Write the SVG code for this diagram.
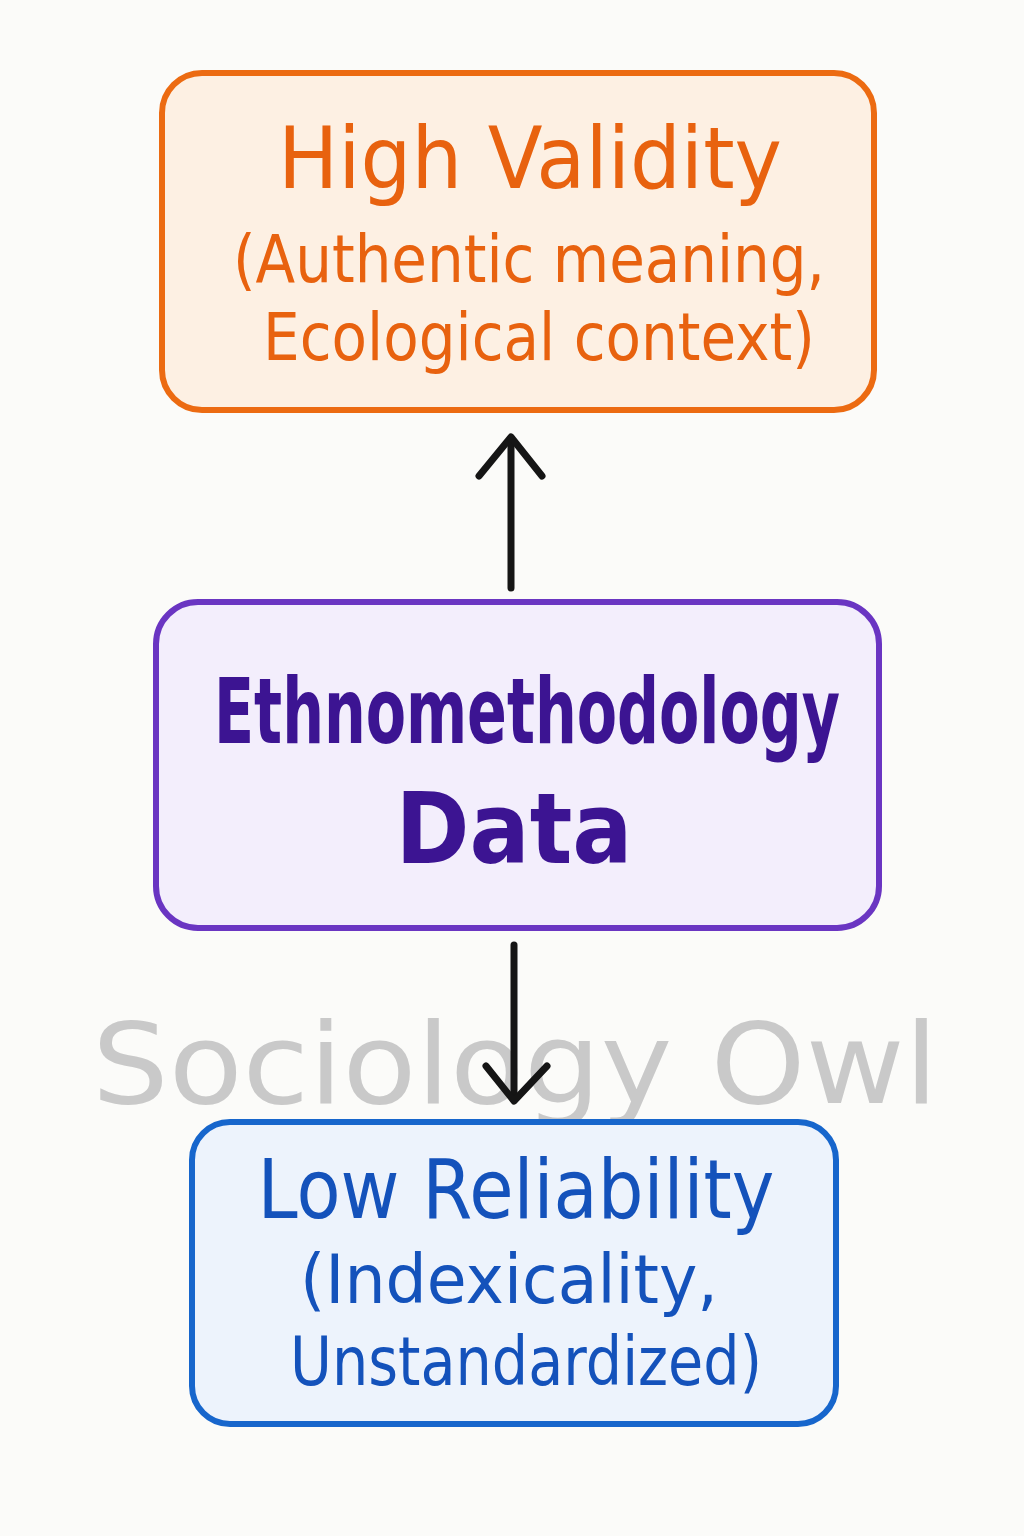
<svg xmlns="http://www.w3.org/2000/svg" width="1024" height="1536" viewBox="0 0 1024 1536">
<defs>
<style>
.t{font-family:"DejaVu Sans","Liberation Sans",sans-serif;text-anchor:middle}
.box{stroke-width:6}
.conn{stroke:#151515;stroke-width:7;fill:none;stroke-linecap:round;stroke-linejoin:round}
</style>
</defs>
<rect width="1024" height="1536" fill="#fbfbf9"/>
<g id="watermark">
<text x="515" y="1103" font-family="'DejaVu Sans',sans-serif" font-size="112" fill="#c9c9c9" text-anchor="middle" textLength="846" lengthAdjust="spacingAndGlyphs">Sociology Owl</text>
</g>
<g id="connectors">
<path class="conn" d="M511 588 L511 438"/>
<path class="conn" d="M479 476 L511 437 L542 476"/>
<path class="conn" d="M514 945 L514 1100"/>
<path class="conn" d="M486 1066 L514 1101 L547 1066"/>
</g>
<g id="high-validity">
<rect class="box" x="162" y="73" width="712" height="337" rx="40" fill="#fdf0e3" stroke="#ec6b12"/>
<text class="t" x="530" y="188" font-size="86" fill="#e8620f" textLength="504" lengthAdjust="spacingAndGlyphs">High Validity</text>
<text class="t" x="529" y="282" font-size="66" fill="#e8620f" textLength="592" lengthAdjust="spacingAndGlyphs">(Authentic meaning,</text>
<text class="t" x="539" y="360" font-size="66" fill="#e8620f" textLength="552" lengthAdjust="spacingAndGlyphs">Ecological context)</text>
</g>
<g id="ethnomethodology-data">
<rect class="box" x="156" y="602" width="723" height="326" rx="42" fill="#f3eefc" stroke="#6a35c2"/>
<text class="t" x="527" y="743" font-size="90" fill="#3c1492" font-weight="bold" textLength="626" lengthAdjust="spacingAndGlyphs">Ethnomethodology</text>
<text class="t" x="514" y="863" font-size="98" fill="#3c1492" font-weight="bold" textLength="237" lengthAdjust="spacingAndGlyphs">Data</text>
</g>
<g id="low-reliability">
<rect class="box" x="192" y="1122" width="644" height="302" rx="38" fill="#edf3fc" stroke="#1766cc"/>
<text class="t" x="516" y="1218" font-size="82" fill="#1452bb" textLength="517" lengthAdjust="spacingAndGlyphs">Low Reliability</text>
<text class="t" x="509" y="1303" font-size="68" fill="#1452bb" textLength="418" lengthAdjust="spacingAndGlyphs">(Indexicality,</text>
<text class="t" x="526" y="1385" font-size="68" fill="#1452bb" textLength="472" lengthAdjust="spacingAndGlyphs">Unstandardized)</text>
</g>
</svg>
